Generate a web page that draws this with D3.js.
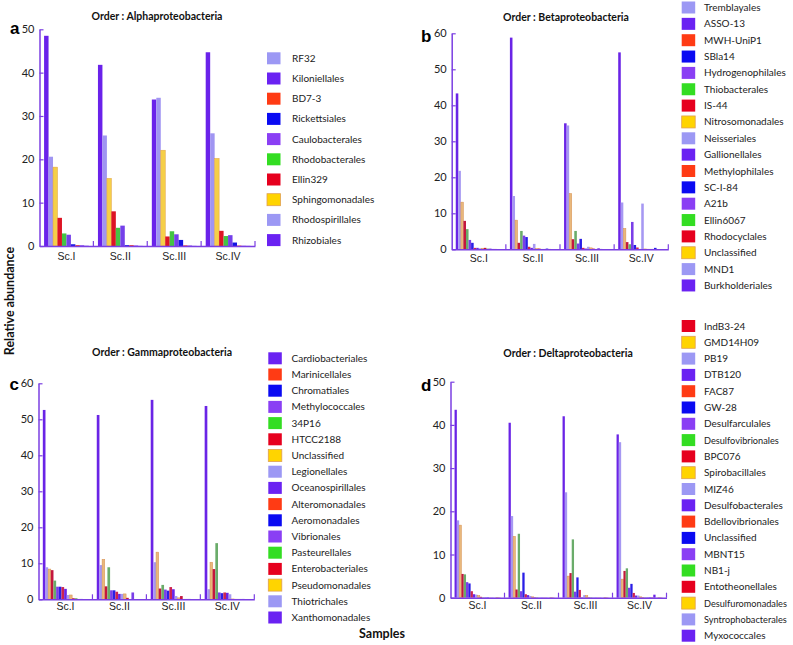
<!DOCTYPE html>
<html><head><meta charset="utf-8">
<script src="https://cdn.jsdelivr.net/npm/d3@7/dist/d3.min.js"></script>
<style>
body{margin:0;background:#fff;}
svg{display:block;font-family:Lato,"Open Sans",sans-serif;}
</style></head>
<body>
<svg id="chart" width="793" height="645"></svg>
<script>
const categories = ["Sc.I","Sc.II","Sc.III","Sc.IV"];

// Series in bar order (first bar of each group first); legend lists them reversed
const alphaSeries = ["Rhizobiales","Rhodospirillales","Sphingomonadales","Ellin329","Rhodobacterales","Caulobacterales","Rickettsiales","BD7-3","Kiloniellales","RF32"];
const alphaValues = [
  [48.5,20.6,18.2,6.5,2.9,2.6,0.4,0.2,0.15,0.1],
  [41.8,25.5,15.6,8.0,4.2,4.7,0.2,0.2,0.1,0.05],
  [33.8,34.2,22.1,2.2,3.4,2.7,1.4,0.15,0.1,0.05],
  [44.7,26.0,20.2,3.5,2.3,2.5,0.8,0.1,0.05,0.05]
];
const alphaTicks = [0,10,20,30,40,50];

const betaSeries = ["Burkholderiales","MND1","Unclassified","Rhodocyclales","Ellin6067","A21b","SC-I-84","Methylophilales","Gallionellales","Neisseriales","Nitrosomonadales","IS-44","Thiobacterales","Hydrogenophilales","SBla14","MWH-UniP1","ASSO-13","Tremblayales"];
const betaValues = [
  [43.3,21.8,13.1,7.9,5.6,2.6,1.8,0.4,0.4,0.3,0.3,0.4,0.2,0.2,0.1,0.1,0.05,0.05],
  [58.8,14.8,8.1,1.8,5.1,3.8,3.4,0.7,0.4,1.5,0.2,0.2,0.1,0.1,0.2,0.1,0.05,0.05],
  [35.0,34.4,15.5,2.8,5.1,1.6,2.9,0.4,0.2,0.7,0.4,0.2,0.1,0.3,0.1,0.05,0.05,0.05],
  [54.7,13.0,5.8,2.0,1.4,7.6,1.2,0.5,0.1,12.7,0.1,0.1,0.1,0.1,0.4,0.05,0.05,0.05]
];
const betaTicks = [0,10,20,30,40,50,60];

const gammaSeries = ["Xanthomonadales","Thiotrichales","Pseudomonadales","Enterobacteriales","Pasteurellales","Vibrionales","Aeromonadales","Alteromonadales","Oceanospirillales","Legionellales","Unclassified","HTCC2188","34P16","Methylococcales","Chromatiales","Marinicellales","Cardiobacteriales"];
const gammaValues = [
  [52.6,8.9,8.4,8.1,5.2,3.5,3.5,3.4,2.9,1.2,1.2,0.3,0.3,0.1,0.1,0.05,0.05],
  [51.2,9.5,11.1,3.6,8.9,2.5,2.5,2.1,1.5,1.5,1.5,0.4,0.05,1.9,0.05,0.05,0.05],
  [55.4,10.3,13.1,3.0,4.0,2.7,2.4,3.4,2.8,0.9,0.4,0.9,0.1,0.1,0.1,0.05,0.05],
  [53.7,2.8,10.3,8.4,15.6,1.9,1.7,1.9,1.8,1.4,0.1,0.1,0.1,0.1,0.1,0.05,0.05]
];
const gammaTicks = [0,10,20,30,40,50,60];

const deltaSeries = ["Myxococcales","Syntrophobacterales","Desulfuromonadales","Entotheonellales","NB1-j","MBNT15","Unclassified","Bdellovibrionales","Desulfobacterales","MIZ46","Spirobacillales","BPC076","Desulfovibrionales","Desulfarculales","GW-28","FAC87","DTB120","PB19","GMD14H09","IndB3-24"];
const deltaValues = [
  [43.5,17.9,16.8,5.5,5.4,3.6,3.3,1.5,0.8,0.7,0.5,0.2,0.1,0.1,0.1,0.05,0.05,0.05,0.05,0.05],
  [40.5,18.9,14.2,1.9,14.8,1.5,5.8,0.8,0.6,0.4,0.2,0.1,0.1,0.05,0.05,0.05,0.05,0.05,0.05,0.05],
  [42.0,24.4,5.0,5.7,13.5,1.4,4.7,1.8,0.1,0.6,0.5,0.1,0.1,0.05,0.05,0.05,0.05,0.05,0.05,0.05],
  [37.8,36.0,4.3,6.2,6.8,2.3,3.2,1.1,0.5,0.5,0.2,0.1,0.1,0.1,0.1,0.1,0.7,0.05,0.05,0.05]
];
const deltaTicks = [0,10,20,30,40,50];

// colour cycle (legend swatches) and bar shades
const legendColors = ["#6a22f2","#9c98f4","#ffd400","#e6001e","#33dd22","#8a3ff4","#0a0af2","#ff3b14"];
const legendStroke = ["none","none","#e0a050","none","none","none","none","none"];
const barColorsA = ["#6a22ea","#a095f2","#f5cf48","#dd1424","#44c444","#7440ea","#1414e2","#ee3424"];
const barColorsB = ["#6a24e6","#a698f2","#e8b87c","#c4163e","#6aac6a","#7a3ee8","#2a1ee6","#cc2450"];

const svg = d3.select("#chart");
const axisColor = "#7b3fe2";

const panels = [
  {letter:"a", title:"Order : Alphaproteobacteria", series:alphaSeries, values:alphaValues, ticks:alphaTicks,
   x0:39.5, x1:255, y0:246, y1:29.3, barColors:barColorsA, pad:0.085,
   titleX:157, titleY:20, letterX:10, letterY:34, labelY:260,
   legX:267, legTextX:292, legY:58.3, legStep:20.2},
  {letter:"b", title:"Order : Betaproteobacteria", series:betaSeries, values:betaValues, ticks:betaTicks,
   x0:451.7, x1:668.3, y0:249.3, y1:33.3, barColors:barColorsB, pad:0.075,
   titleX:566, titleY:21, letterX:421, letterY:41.5, labelY:262,
   legX:681.7, legTextX:704, legY:7.5, legStep:16.35},
  {letter:"c", title:"Order : Gammaproteobacteria", series:gammaSeries, values:gammaValues, ticks:gammaTicks,
   x0:38.5, x1:254.3, y0:599.3, y1:383.3, barColors:barColorsB, pad:0.08,
   titleX:162, titleY:356, letterX:9.5, letterY:390, labelY:610,
   legX:268.3, legTextX:291.5, legY:358.3, legStep:16.2},
  {letter:"d", title:"Order : Deltaproteobacteria", series:deltaSeries, values:deltaValues, ticks:deltaTicks,
   x0:450.5, x1:666.5, y0:597.7, y1:381.7, barColors:barColorsB, pad:0.075,
   titleX:568, titleY:357, letterX:421, letterY:390.5, labelY:609,
   legX:681.7, legTextX:704, legY:326, legStep:16.3}
];

panels.forEach(p => {
  const g = svg.append("g");
  const maxV = p.ticks[p.ticks.length-1];
  const y = d3.scaleLinear().domain([0, maxV]).range([p.y0, p.y1]);
  const xg = d3.scaleBand().domain(categories).range([p.x0, p.x1]).padding(0);
  const bw = xg.bandwidth();
  const xs = d3.scaleBand().domain(d3.range(p.series.length))
      .range([bw*p.pad, bw*(1-p.pad)]).padding(0);

  // bars
  categories.forEach((c, ci) => {
    const grp = g.append("g").attr("transform", `translate(${xg(c)},0)`);
    grp.selectAll("rect").data(p.values[ci]).join("rect")
      .attr("x", (d,i) => xs(i))
      .attr("width", xs.bandwidth())
      .attr("y", d => y(d))
      .attr("height", d => p.y0 - y(d))
      .attr("fill", (d,i) => p.barColors[i % 8])
      .attr("stroke", (d,i) => (i % 8 === 2) ? (p.letter==="a" ? "#e2a040" : "#d89050") : "none")
      .attr("stroke-width", 0.5);
  });

  // y axis
  const ya = d3.axisLeft(y).tickValues(p.ticks).tickSizeInner(-4).tickSizeOuter(0).tickPadding(5);
  const yg = g.append("g").attr("transform", `translate(${p.x0},0)`).call(ya);
  yg.select(".domain").attr("stroke", axisColor).attr("stroke-width", 1.5);
  yg.selectAll(".tick line").attr("stroke", axisColor).attr("stroke-width", 1.2);
  yg.selectAll("text").attr("fill", "#222").style("font-size", "11px").style("font-family", "Lato, sans-serif");

  // x axis
  const xa = d3.axisBottom(xg).tickSize(0).tickPadding(6);
  const xgG = g.append("g").attr("transform", `translate(0,${p.y0})`).call(xa);
  xgG.select(".domain").attr("stroke", axisColor).attr("stroke-width", 1.5);
  xgG.selectAll("text").attr("fill", "#222").style("font-size", "10.5px").attr("dy", null)
     .attr("y", p.labelY - p.y0);
  // group boundary ticks (inward)
  g.selectAll(".bt").data(categories).join("line")
    .attr("x1", c => xg(c)+bw).attr("x2", c => xg(c)+bw)
    .attr("y1", p.y0).attr("y2", p.y0 - 5)
    .attr("stroke", axisColor).attr("stroke-width", 1.2);

  // title
  g.append("text").attr("x", p.titleX).attr("y", p.titleY).attr("text-anchor","middle")
    .style("font-weight","bold").style("font-size","10.5px").attr("fill","#111").text(p.title);
  // letter
  g.append("text").attr("x", p.letterX).attr("y", p.letterY)
    .style("font-weight","bold").style("font-size","17px").style("font-family","Liberation Sans, Arial, sans-serif")
    .attr("fill","#000").text(p.letter);

  // legend (reverse order)
  const leg = p.series.map((s,i) => ({name:s, idx:i})).reverse();
  const lg = g.append("g");
  leg.forEach((d, k) => {
    const cy = p.legY + k*p.legStep;
    lg.append("rect").attr("x", p.legX).attr("y", cy - 6).attr("width", 13.5).attr("height", 12)
      .attr("fill", legendColors[d.idx % 8])
      .attr("stroke", legendStroke[d.idx % 8]).attr("stroke-width", 0.8);
    const long = d.name.length > 17 && p.legTextX > 600;
    lg.append("text").attr("x", p.legTextX).attr("y", cy + 3.5)
      .style("font-size", long ? "9.2px" : "10px").attr("fill","#222").text(d.name);
  });
});

// axis titles
svg.append("text").attr("transform","translate(14,301) rotate(-90)").attr("text-anchor","middle")
  .style("font-weight","bold").style("font-size","12.5px").attr("fill","#111").text("Relative abundance");
svg.append("text").attr("x",382).attr("y",638).attr("text-anchor","middle")
  .style("font-weight","bold").style("font-size","12.5px").attr("fill","#111").text("Samples");
</script>
</body></html>
